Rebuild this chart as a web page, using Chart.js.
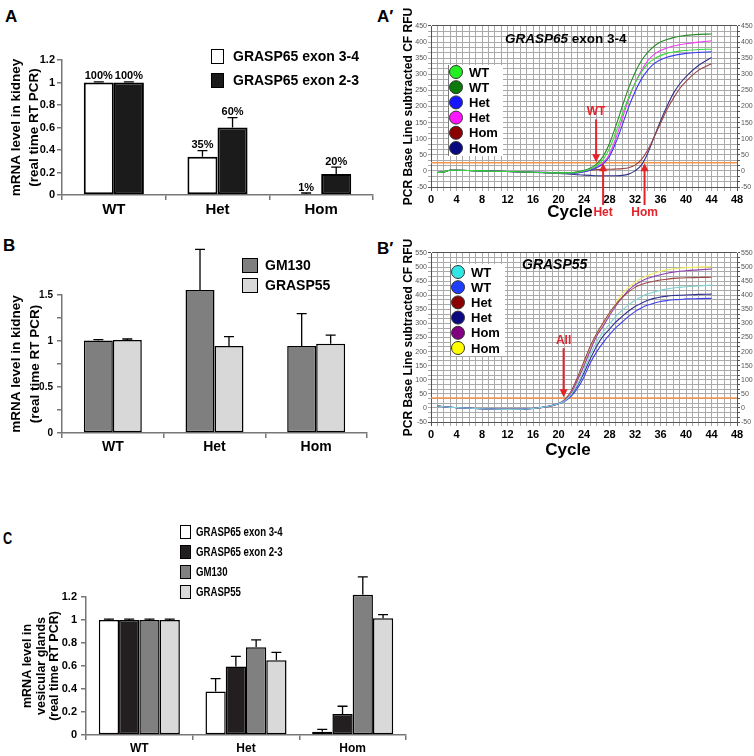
<!DOCTYPE html>
<html>
<head>
<meta charset="utf-8">
<script src="https://cdn.jsdelivr.net/npm/chart.js@4.4.1/dist/chart.umd.min.js"></script>
<style>
  body { margin: 0; background: #fff; width: 754px; height: 756px; position: relative; overflow: hidden; font-family: 'Liberation Sans', Arial, sans-serif; }
  canvas { position: absolute; }
  .tag { position: absolute; font-weight: bold; font-size: 17px; line-height: 17px; }
</style>
</head>
<body>
<div class="tag" style="left:5px;top:8px">A</div>
<div class="tag" style="left:377px;top:8px">A′</div>
<div class="tag" style="left:3px;top:237px">B</div>
<div class="tag" style="left:377px;top:240px">B′</div>
<div class="tag" style="left:3px;top:530px;transform:scaleX(0.75);transform-origin:left">C</div>

<canvas id="chartA" style="left:0;top:0" width="380" height="215"></canvas>
<canvas id="chartB" style="left:0;top:220px" width="380" height="235"></canvas>
<canvas id="chartC" style="left:0;top:460px" width="420" height="296"></canvas>
<canvas id="chartA2" style="left:370px;top:0" width="384" height="222"></canvas>
<canvas id="chartB2" style="left:370px;top:228px" width="384" height="232"></canvas>

<script>
const genotypes = ['WT', 'Het', 'Hom'];

// A: kidney, GRASP65 exons
const kidneyExon34 = [1.0, 0.34, 0.01];
const kidneyExon34Err = [0.005, 0.055, 0.008];
const kidneyExon34Pct = ['100%', '35%', '1%'];
const kidneyExon23 = [1.0, 0.60, 0.187];
const kidneyExon23Err = [0.005, 0.087, 0.06];
const kidneyExon23Pct = ['100%', '60%', '20%'];

// B: kidney, GM130 / GRASP55
const kidneyGM130 = [1.005, 1.555, 0.947];
const kidneyGM130Err = [0.01, 0.44, 0.35];
const kidneyGRASP55 = [1.012, 0.947, 0.969];
const kidneyGRASP55Err = [0.01, 0.10, 0.094];

// C: vesicular glands
const glandExon34 = [1.0, 0.378, 0.029];
const glandExon34Err = [0.008, 0.112, 0.02];
const glandExon23 = [1.0, 0.596, 0.183];
const glandExon23Err = [0.008, 0.087, 0.067];
const glandGM130 = [1.0, 0.762, 1.22];
const glandGM130Err = [0.008, 0.066, 0.155];
const glandGRASP55 = [1.0, 0.651, 1.015];
const glandGRASP55Err = [0.008, 0.067, 0.032];

// A' / B': amplification curves (RFU per cycle)
const cycles = [1, 2, 3, 4, 8, 12, 16, 20, 21, 22, 23, 24, 25, 26, 27, 28, 29, 30, 31, 32, 33, 34, 35, 36, 37, 38, 39, 40, 42, 44];
const cycleTicks = [0, 4, 8, 12, 16, 20, 24, 28, 32, 36, 40, 44, 48];

const g65WT1 = [-5, -3, 2, 2, 0, -2, -4, -6, -6, -6, -5, 0, 6, 16, 35, 70, 120, 175, 228, 272, 307, 332, 348, 358, 365, 369, 372, 374, 377, 378];
const g65WT2 = [-5, -3, 2, 2, 0, -2, -4, -6, -6, -5, -3, 2, 9, 22, 45, 85, 140, 200, 258, 305, 342, 368, 387, 400, 408, 414, 418, 421, 424, 425];
const g65Het1 = [-5, -3, 2, 2, 0, -2, -4, -6, -7, -7, -6, -3, 2, 10, 22, 45, 88, 142, 198, 246, 285, 313, 333, 345, 353, 358, 362, 365, 368, 370];
const g65Het2 = [-5, -3, 2, 2, 0, -2, -4, -6, -7, -7, -6, -2, 4, 13, 26, 52, 102, 162, 222, 272, 312, 342, 362, 374, 382, 388, 392, 395, 400, 404];
const g65Hom1 = [-5, -3, 2, 2, 0, -2, -4, -5, -5, -5, -4, -2, 2, 4, 5, 5, 6, 7, 10, 18, 35, 65, 105, 148, 190, 225, 255, 278, 313, 333];
const g65Hom2 = [-5, -3, 2, 2, 0, -2, -5, -8, -9, -10, -12, -13, -14, -15, -15, -15, -15, -14, -10, 0, 18, 55, 105, 155, 200, 240, 270, 293, 328, 352];
const g65Threshold = 25;

const g55WT1 = [7, 4, 2, 1, -3, -5, -2, 15, 26, 48, 85, 135, 190, 235, 270, 297, 325, 347, 366, 382, 395, 405, 412, 418, 422, 426, 428, 430, 433, 436];
const g55WT2 = [7, 4, 2, 1, -3, -5, -2, 15, 24, 42, 70, 110, 160, 200, 232, 260, 285, 305, 325, 342, 355, 365, 372, 378, 381, 384, 385, 387, 388, 389];
const g55Het1 = [7, 4, 2, 1, -3, -5, -2, 15, 30, 60, 110, 165, 220, 265, 302, 338, 368, 392, 412, 428, 438, 445, 450, 454, 457, 460, 461, 462, 463, 464];
const g55Het2 = [7, 4, 2, 1, -3, -5, -2, 15, 26, 45, 80, 125, 175, 220, 255, 280, 305, 325, 344, 360, 372, 382, 389, 394, 397, 399, 400, 401, 403, 404];
const g55Hom1 = [7, 4, 2, 1, -3, -5, -2, 15, 28, 52, 100, 150, 205, 255, 290, 328, 362, 392, 418, 437, 450, 460, 467, 473, 478, 482, 485, 487, 490, 493];
const g55Hom2 = [7, 4, 2, 1, -3, -5, -2, 15, 25, 48, 100, 155, 210, 260, 298, 332, 372, 405, 428, 445, 460, 470, 478, 485, 490, 494, 496, 498, 500, 501];
const g55Threshold = 35;

const SANS = "'Liberation Sans', Arial, sans-serif";
const ARROW_RED = '#e3222a';

Chart.defaults.font.family = SANS;
Chart.defaults.color = '#000';
Chart.defaults.animation = false;
Chart.defaults.responsive = false;
Chart.defaults.plugins.legend.display = false;
Chart.defaults.plugins.tooltip.enabled = false;

function fixWidth(w) { return scale => { scale.width = w; }; }
function fixHeight(h) { return scale => { scale.height = h; }; }

// error bars (plus only) and optional labels above them
function errorBars(errs, labels) {
  return {
    id: 'errorBars',
    afterDatasetsDraw(chart) {
      const ctx = chart.ctx;
      const y = chart.scales.y;
      ctx.save();
      ctx.strokeStyle = '#000';
      ctx.lineWidth = 1.3;
      ctx.fillStyle = '#000';
      ctx.font = 'bold 11px ' + SANS;
      ctx.textAlign = 'center';
      ctx.textBaseline = 'bottom';
      chart.data.datasets.forEach((ds, i) => {
        chart.getDatasetMeta(i).data.forEach((bar, j) => {
          const top = y.getPixelForValue(ds.data[j] + errs[i][j]);
          ctx.beginPath();
          ctx.moveTo(bar.x, bar.y);
          ctx.lineTo(bar.x, top);
          ctx.moveTo(bar.x - 5, top);
          ctx.lineTo(bar.x + 5, top);
          ctx.stroke();
          if (labels && labels[i]) ctx.fillText(labels[i][j], bar.x, top);
        });
      });
      ctx.restore();
    }
  };
}

function boxLegend(items, pos) {
  return {
    id: 'boxLegend',
    afterDraw(chart) {
      const ctx = chart.ctx;
      ctx.save();
      ctx.font = pos.font;
      ctx.textBaseline = 'middle';
      items.forEach((it, i) => {
        const top = pos.y + i * pos.step;
        ctx.fillStyle = it.color;
        ctx.fillRect(pos.x, top, pos.w, pos.h);
        ctx.strokeStyle = '#000';
        ctx.lineWidth = 1;
        ctx.strokeRect(pos.x + 0.5, top + 0.5, pos.w, pos.h);
        ctx.fillStyle = '#000';
        ctx.save();
        ctx.translate(pos.textX, top + pos.h / 2 + 1);
        ctx.scale(pos.squeeze || 1, 1);
        ctx.fillText(it.label, 0, 0);
        ctx.restore();
      });
      ctx.restore();
    }
  };
}

function barDataset(label, data, color, bw) {
  return { label: label, data: data, backgroundColor: color, borderColor: '#000', borderWidth: bw, borderSkipped: false, clip: false };
}

function barScales(o) {
  return {
    x: {
      afterFit: fixHeight(o.xh),
      border: { color: '#777', width: 1.5 },
      grid: { drawOnChartArea: false, offset: true, tickLength: 5, color: '#777', lineWidth: 1.5 },
      ticks: { font: o.catFont, color: '#000', padding: 1 }
    },
    y: {
      min: 0, max: o.max,
      afterFit: fixWidth(o.yw),
      afterBuildTicks: s => { s.ticks = o.ticks.map(v => ({ value: v })); },
      border: { color: '#777', width: 1.5 },
      grid: { drawOnChartArea: false, tickLength: 5, color: '#777', lineWidth: 1.5 },
      ticks: { font: o.tickFont, color: '#000', padding: o.tickPad, callback: o.tickLabel },
      title: { display: true, text: o.title, font: o.titleFont, padding: { top: o.titlePad, bottom: 0 } }
    }
  };
}

// ---------- A ----------
new Chart(document.getElementById('chartA'), {
  type: 'bar',
  data: {
    labels: genotypes,
    datasets: [
      barDataset('GRASP65 exon 3-4', kidneyExon34, '#ffffff', 2),
      barDataset('GRASP65 exon 2-3', kidneyExon23, '#1b1b1b', 2)
    ]
  },
  options: {
    layout: { padding: { top: 60, right: 7, left: 0, bottom: 0 } },
    datasets: { bar: { categoryPercentage: 0.58, barPercentage: 1 } },
    scales: barScales({
      xh: 20, yw: 62, max: 1.2,
      ticks: [0, 0.2, 0.4, 0.6, 0.8, 1.0, 1.2],
      tickLabel: v => String(Math.round(v * 10) / 10),
      catFont: { size: 15, weight: 'bold' },
      tickFont: { size: 11, weight: 'bold' },
      tickPad: 2,
      title: ['mRNA level in kidney', '(real time RT PCR)'],
      titleFont: { size: 13.5, weight: 'bold', lineHeight: 1.34 },
      titlePad: 7
    })
  },
  plugins: [
    errorBars([kidneyExon34Err, kidneyExon23Err], [kidneyExon34Pct, kidneyExon23Pct]),
    boxLegend([{ label: 'GRASP65 exon 3-4', color: '#fff' }, { label: 'GRASP65 exon 2-3', color: '#1b1b1b' }],
      { x: 211, y: 49, step: 24, w: 12, h: 14, textX: 233, font: 'bold 14px ' + SANS })
  ]
});

// ---------- B ----------
new Chart(document.getElementById('chartB'), {
  type: 'bar',
  data: {
    labels: genotypes,
    datasets: [
      barDataset('GM130', kidneyGM130, '#7f7f7f', 1.5),
      barDataset('GRASP55', kidneyGRASP55, '#d8d8d8', 1.5)
    ]
  },
  options: {
    layout: { padding: { top: 75, right: 13, left: 0, bottom: 0 } },
    datasets: { bar: { categoryPercentage: 0.57, barPercentage: 1 } },
    scales: barScales({
      xh: 22, yw: 62, max: 1.5,
      ticks: [0, 0.25, 0.5, 0.75, 1.0, 1.25, 1.5],
      tickLabel: v => (Math.abs(v * 2 - Math.round(v * 2)) < 1e-6 ? String(v) : ''),
      catFont: { size: 14, weight: 'bold' },
      tickFont: { size: 10, weight: 'bold' },
      tickPad: 4,
      title: ['mRNA level in kidney', '(real time RT PCR)'],
      titleFont: { size: 13.5, weight: 'bold', lineHeight: 1.4 },
      titlePad: 7
    })
  },
  plugins: [
    errorBars([kidneyGM130Err, kidneyGRASP55Err]),
    boxLegend([{ label: 'GM130', color: '#7f7f7f' }, { label: 'GRASP55', color: '#d8d8d8' }],
      { x: 242, y: 38, step: 20, w: 15, h: 14, textX: 265, font: 'bold 14px ' + SANS })
  ]
});

// ---------- C ----------
new Chart(document.getElementById('chartC'), {
  type: 'bar',
  data: {
    labels: genotypes,
    datasets: [
      barDataset('GRASP65 exon 3-4', glandExon34, '#ffffff', 1.5),
      barDataset('GRASP65 exon 2-3', glandExon23, '#231f20', 1.5),
      barDataset('GM130', glandGM130, '#808080', 1.5),
      barDataset('GRASP55', glandGRASP55, '#d9d9d9', 1.5)
    ]
  },
  options: {
    layout: { padding: { top: 137, right: 14, left: 0, bottom: 0 } },
    datasets: { bar: { categoryPercentage: 0.76, barPercentage: 1 } },
    scales: barScales({
      xh: 21, yw: 86, max: 1.2,
      ticks: [0, 0.2, 0.4, 0.6, 0.8, 1.0, 1.2],
      tickLabel: v => String(Math.round(v * 10) / 10),
      catFont: { size: 12, weight: 'bold' },
      tickFont: { size: 11, weight: 'bold' },
      tickPad: 4,
      title: ['mRNA level in', 'vesicular glands', '(real time RT PCR)'],
      titleFont: { size: 12.5, weight: 'bold', lineHeight: 1.08 },
      titlePad: 21
    })
  },
  plugins: [
    errorBars([glandExon34Err, glandExon23Err, glandGM130Err, glandGRASP55Err]),
    boxLegend([
      { label: 'GRASP65 exon 3-4', color: '#fff' },
      { label: 'GRASP65 exon 2-3', color: '#231f20' },
      { label: 'GM130', color: '#808080' },
      { label: 'GRASP55', color: '#d9d9d9' }
    ], { x: 180, y: 65, step: 20, w: 10, h: 13, textX: 196, squeeze: 0.74, font: 'bold 13px ' + SANS })
  ]
});

// ---------- A' / B' ----------
function range(from, to, step) {
  const out = [];
  for (let v = from; v <= to + 1e-9; v += step) out.push(v);
  return out;
}

function pcrOverlay(o) {
  return {
    id: 'pcrOverlay',
    afterDraw(chart) {
      const ctx = chart.ctx;
      const xs = chart.scales.x, ys = chart.scales.y;
      ctx.save();
      // legend
      ctx.fillStyle = '#fff';
      ctx.fillRect(o.legend.box[0], o.legend.box[1], o.legend.box[2], o.legend.box[3]);
      ctx.strokeStyle = '#777';
      ctx.lineWidth = 1;
      ctx.beginPath();
      ctx.moveTo(o.legend.box[0] + 0.5, o.legend.box[1]);
      ctx.lineTo(o.legend.box[0] + 0.5, o.legend.box[1] + o.legend.box[3]);
      ctx.stroke();
      ctx.font = 'bold 13px ' + SANS;
      ctx.textBaseline = 'middle';
      o.legend.items.forEach((it, i) => {
        const cy = o.legend.y + i * o.legend.step;
        ctx.beginPath();
        ctx.arc(o.legend.x, cy, 6.5, 0, Math.PI * 2);
        ctx.fillStyle = it.color;
        ctx.fill();
        ctx.strokeStyle = '#333';
        ctx.lineWidth = 1;
        ctx.stroke();
        ctx.fillStyle = '#000';
        ctx.fillText(it.label, o.legend.x + 13, cy + 1);
      });
      // title
      ctx.font = 'italic bold ' + o.titleSize + 'px ' + SANS;
      ctx.fillText(o.title[0], o.titleX, o.titleY);
      const w = ctx.measureText(o.title[0]).width;
      ctx.font = 'bold ' + o.titleSize + 'px ' + SANS;
      if (o.title[1]) ctx.fillText(o.title[1], o.titleX + w, o.titleY);
      // x axis name
      ctx.font = 'bold 17px ' + SANS;
      ctx.textAlign = 'center';
      ctx.fillText('Cycle', o.cycleX, o.cycleY);
      // arrows
      ctx.strokeStyle = ARROW_RED;
      ctx.fillStyle = ARROW_RED;
      ctx.lineWidth = 2;
      ctx.font = 'bold 12px ' + SANS;
      o.arrows.forEach(a => {
        const x = xs.getPixelForValue(a.cycle);
        const y0 = ys.getPixelForValue(a.from);
        const y1 = ys.getPixelForValue(a.to);
        const dir = y1 > y0 ? 1 : -1;
        ctx.beginPath();
        ctx.moveTo(x, y0);
        ctx.lineTo(x, y1 - dir * 7);
        ctx.stroke();
        ctx.beginPath();
        ctx.moveTo(x, y1);
        ctx.lineTo(x - 4, y1 - dir * 8);
        ctx.lineTo(x + 4, y1 - dir * 8);
        ctx.closePath();
        ctx.fill();
        ctx.textBaseline = dir > 0 ? 'bottom' : 'top';
        ctx.fillText(a.label, x, y0 - dir * 2);
      });
      ctx.restore();
    }
  };
}

function pcrChart(id, series, threshold, o) {
  const gridTicks = range(-50, o.max, 50 / 3);
  const isMajor = v => Math.abs(v / 50 - Math.round(v / 50)) < 1e-6;
  const datasets = series.map(s => ({
    data: cycles.map((c, i) => ({ x: c, y: s.values[i] })),
    borderColor: s.line, borderWidth: 1.1, pointRadius: 0,
    cubicInterpolationMode: 'monotone', fill: false
  }));
  datasets.push({
    data: [{ x: 0, y: threshold }, { x: 48, y: threshold }],
    borderColor: '#f5954a', borderWidth: 1.5, pointRadius: 0, fill: false
  });
  const edgeColor = (ctx, n) => (ctx.index === 0 || ctx.index === n - 1 ? '#555' : '#aaa');
  new Chart(document.getElementById(id), {
    type: 'line',
    data: { datasets: datasets },
    options: {
      layout: { padding: { top: o.top, right: 0, left: 0, bottom: 0 } },
      scales: {
        x: {
          type: 'linear', min: 0, max: 48,
          afterFit: fixHeight(o.xh),
          afterBuildTicks: s => { s.ticks = range(0, 48, 1).map(v => ({ value: v })); },
          border: { color: '#555' },
          grid: { color: c => edgeColor(c, 49), tickLength: 4 },
          ticks: { autoSkip: false, maxRotation: 0, padding: 2, font: { size: 11, weight: 'bold' },
            callback: v => (cycleTicks.includes(v) ? String(v) : '') }
        },
        y: {
          min: -50, max: o.max,
          afterFit: fixWidth(61),
          afterBuildTicks: s => { s.ticks = gridTicks.map(v => ({ value: v })); },
          border: { color: '#555' },
          grid: { color: c => edgeColor(c, gridTicks.length), tickLength: 3 },
          ticks: { autoSkip: false, padding: 1, color: '#555', font: { size: 7 },
            callback: v => (isMajor(v) ? String(Math.round(v)) : '') },
          title: { display: true, text: 'PCR Base Line subtracted CF RFU', font: { size: 12, weight: 'bold' }, padding: { top: 31, bottom: 0 } }
        },
        y2: {
          position: 'right', min: -50, max: o.max,
          afterFit: fixWidth(17),
          afterBuildTicks: s => { s.ticks = gridTicks.map(v => ({ value: v })); },
          border: { color: '#555' },
          grid: { drawOnChartArea: false, color: '#555', tickLength: 3 },
          ticks: { autoSkip: false, padding: 1, color: '#555', font: { size: 7 },
            callback: v => (isMajor(v) ? String(Math.round(v)) : '') }
        }
      }
    },
    plugins: [pcrOverlay({
      title: o.title, titleX: o.titleX, titleY: o.titleY, titleSize: o.titleSize,
      cycleX: o.cycleX, cycleY: o.cycleY, arrows: o.arrows,
      legend: {
        x: o.legendX, y: o.legendY, step: 15.2, box: o.legendBox,
        items: series.map(s => ({ label: s.label, color: s.dot }))
      }
    })]
  });
}

pcrChart('chartA2', [
  { label: 'WT', values: g65WT1, line: '#3ad83a', dot: '#22ee22' },
  { label: 'WT', values: g65WT2, line: '#2a8a2a', dot: '#0a7a0a' },
  { label: 'Het', values: g65Het1, line: '#3b3bf0', dot: '#1515ff' },
  { label: 'Het', values: g65Het2, line: '#f03cf0', dot: '#ff15ff' },
  { label: 'Hom', values: g65Hom1, line: '#9a4040', dot: '#8b0000' },
  { label: 'Hom', values: g65Hom2, line: '#33338a', dot: '#0a0a80' }
], g65Threshold, {
  max: 450, top: 26, xh: 35,
  title: ['GRASP65', ' exon 3-4'], titleX: 135, titleY: 39, titleSize: 13.5,
  cycleX: 200, cycleY: 212,
  legendX: 86, legendY: 72, legendBox: [78, 65, 55, 91],
  arrows: [
    { cycle: 25.9, from: 160, to: 27, label: 'WT' },
    { cycle: 27, from: -106, to: 24, label: 'Het' },
    { cycle: 33.5, from: -106, to: 24, label: 'Hom' }
  ]
});

pcrChart('chartB2', [
  { label: 'WT', values: g55WT1, line: '#7fd3d3', dot: '#33e6e6' },
  { label: 'WT', values: g55WT2, line: '#4040f0', dot: '#1f3fff' },
  { label: 'Het', values: g55Het1, line: '#a04545', dot: '#8b0000' },
  { label: 'Het', values: g55Het2, line: '#303090', dot: '#0a0a80' },
  { label: 'Hom', values: g55Hom1, line: '#9040b0', dot: '#800080' },
  { label: 'Hom', values: g55Hom2, line: '#f0ec60', dot: '#ffff00' }
], g55Threshold, {
  max: 550, top: 25, xh: 38,
  title: ['GRASP55'], titleX: 152, titleY: 37, titleSize: 14,
  cycleX: 198, cycleY: 222,
  legendX: 88, legendY: 44, legendBox: [80, 36, 55, 92],
  arrows: [
    { cycle: 20.8, from: 212, to: 38, label: 'All' }
  ]
});
</script>
</body>
</html>
